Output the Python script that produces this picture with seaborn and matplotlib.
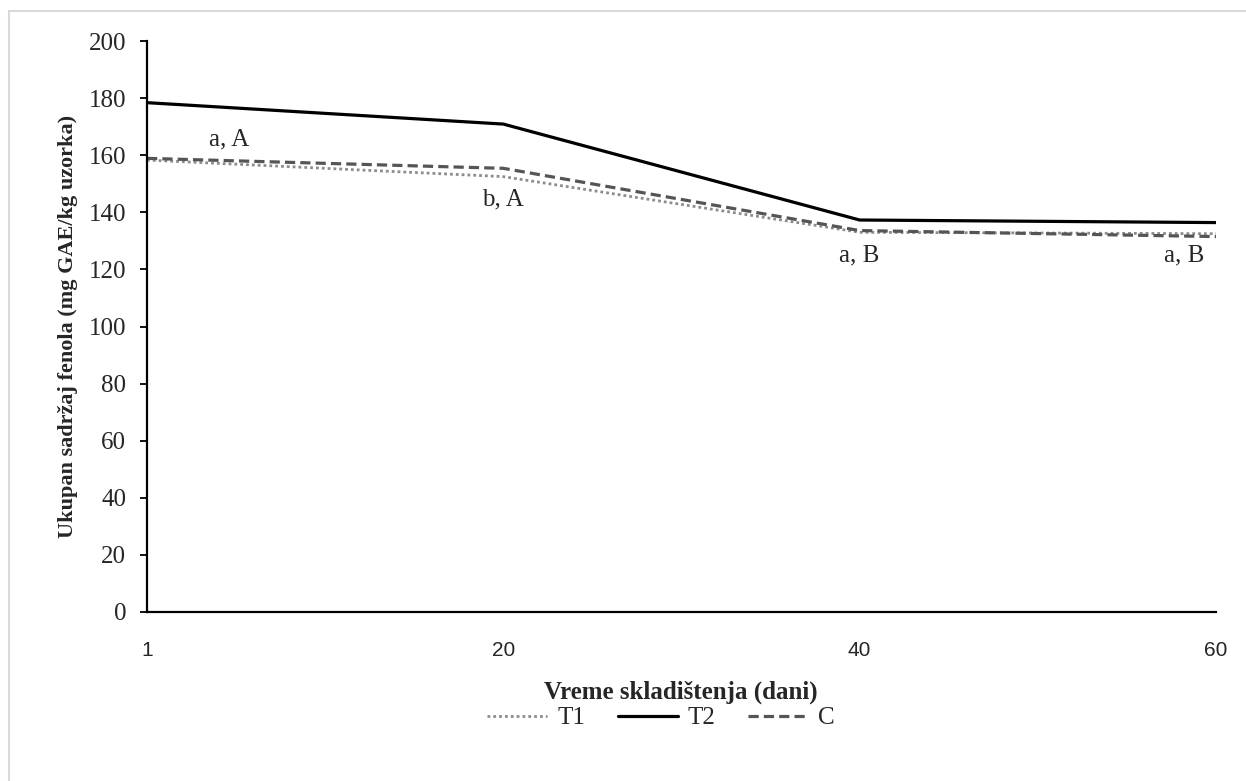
import matplotlib
matplotlib.use("Agg")
import matplotlib.pyplot as plt
import seaborn as sns
import pandas as pd
from matplotlib.patches import Rectangle
from matplotlib.lines import Line2D

days = ["1", "20", "40", "60"]
t1 = [158.3, 152.5, 133.0, 132.5]
t2 = [178.4, 170.9, 137.3, 136.4]
c = [158.9, 155.4, 133.6, 131.5]
series_names = ["T1", "T2", "C"]
annot_text = ["a, A", "b, A", "a, B", "a, B"]
annot_x = [0.23, 1.0, 2.0, 2.91]
annot_y = [165.5, 144.5, 125.0, 125.0]
y_ticks = [0, 20, 40, 60, 80, 100, 120, 140, 160, 180, 200]

rows = []
for name, vals in zip(series_names, [t1, t2, c]):
    for i, (d, v) in enumerate(zip(days, vals)):
        rows.append({"pos": i, "day": d, "value": v, "series": name})
df = pd.DataFrame(rows)

sns.set_style("white")
plt.rcParams["font.family"] = ["Liberation Serif", "DejaVu Serif"]

fig = plt.figure(figsize=(12.46, 7.81), dpi=100)
ax = fig.add_axes([147 / 1246, 1 - 612 / 781, (1216 - 147) / 1246, (612 - 41) / 781])

# light border around the figure
fig.patches.append(Rectangle((9 / 1246, -0.05), 1.2, 1 - 11 / 781 + 0.05,
                             transform=fig.transFigure, fill=False,
                             edgecolor="#d9d9d9", linewidth=1.5, zorder=0))

palette = {"T1": "#8c8c8c", "T2": "#000000", "C": "#555555"}
dashes = {"T1": (1, 1.1), "T2": "", "C": (3.2, 1.6)}
widths = {"T1": 2.0, "T2": 2.3, "C": 2.3}
sns.lineplot(data=df, x="pos", y="value", hue="series", style="series",
             palette=palette, dashes=dashes, hue_order=series_names,
             style_order=series_names, ax=ax, linewidth=2.3, legend=False)
for ln, name in zip(ax.lines, series_names):
    ln.set_linewidth(widths[name])
    ln.set_dash_capstyle("butt")

ax.set_xlim(0, 3)
ax.set_ylim(0, 200)
ax.set_xticks(range(len(days)))
ax.set_xticklabels(days, fontfamily="Liberation Sans", fontsize=15)
ax.set_yticks(y_ticks)
ax.set_yticklabels([str(v) for v in y_ticks], fontsize=18)
ax.tick_params(axis="x", length=0, pad=21)
ax.tick_params(axis="y", length=5, width=1.3, direction="out", color="black", pad=10, left=True)

for side in ["top", "right"]:
    ax.spines[side].set_visible(False)
for side in ["left", "bottom"]:
    ax.spines[side].set_color("black")
    ax.spines[side].set_linewidth(1.6)

ax.set_ylabel("Ukupan sadržaj fenola (mg GAE/kg uzorka)", fontsize=16,
              fontweight="bold", labelpad=8)
ax.set_xlabel("Vreme skladištenja (dani)", fontsize=18, fontweight="bold")
ax.xaxis.set_label_coords((681 - 147) / (1216 - 147), -(692 - 612) / (612 - 41))
ax.xaxis.label.set_verticalalignment("center")

for t, x, y in zip(annot_text, annot_x, annot_y):
    ax.text(x, y, t, fontsize=18, ha="center", va="center")

handles = []
for name in series_names:
    h = Line2D([], [], color=palette[name], linewidth=widths[name], dash_capstyle="butt")
    if dashes[name]:
        h.set_dashes(dashes[name])
    handles.append(h)
fig.legend(handles, series_names, loc="center", bbox_to_anchor=(661 / 1246, 1 - 718 / 781),
           ncol=3, frameon=False, fontsize=18, handlelength=2.4, handletextpad=0.4,
           columnspacing=1.3, borderpad=0)

fig.savefig("out.png", dpi=100, facecolor="white")
